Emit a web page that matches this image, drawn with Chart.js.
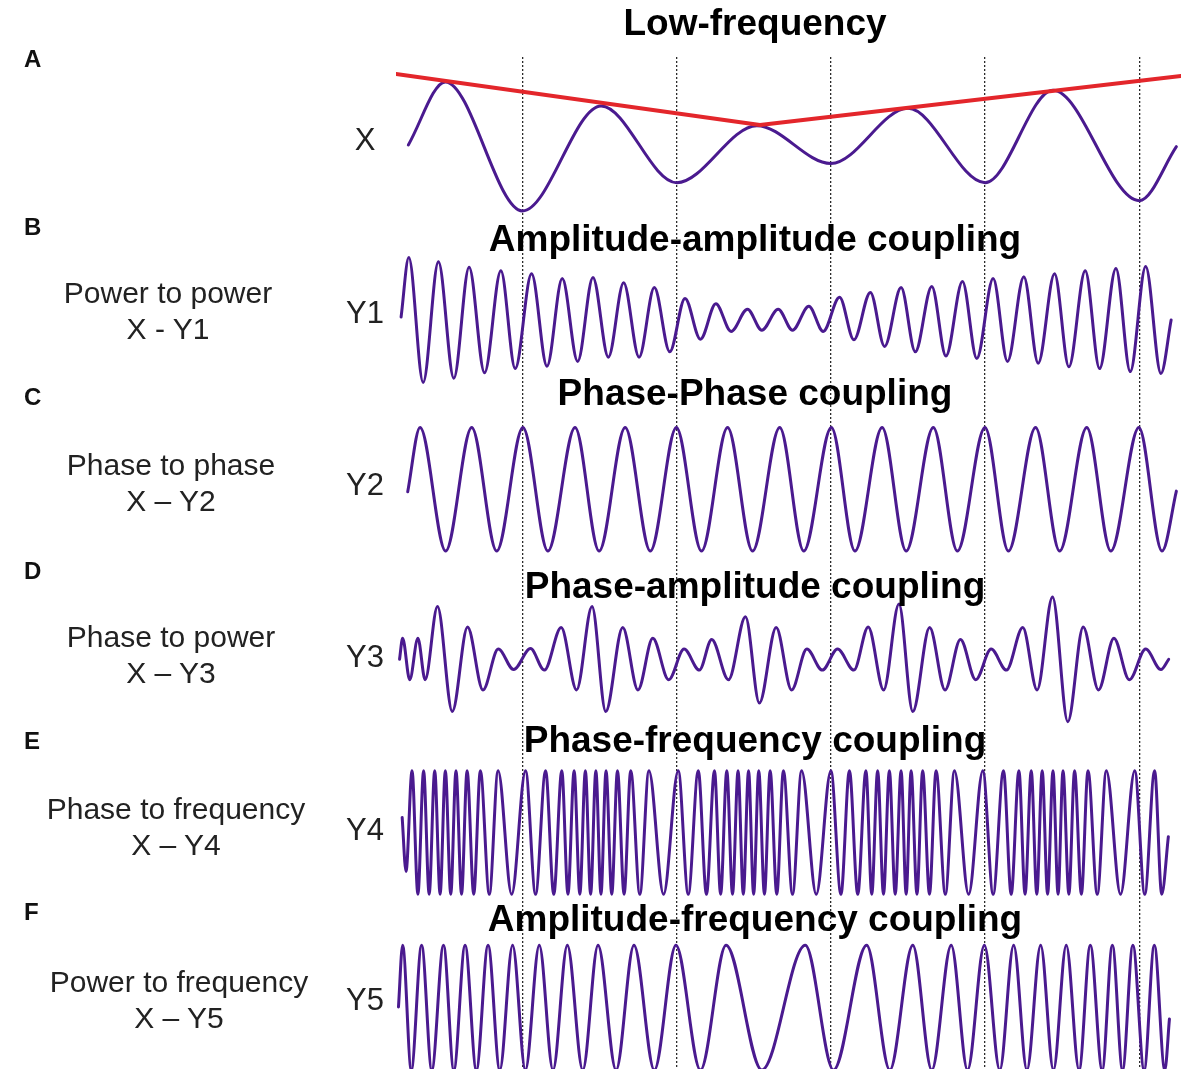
<!DOCTYPE html>
<html>
<head>
<meta charset="utf-8">
<title>Cross-frequency coupling</title>
<script src="https://cdn.jsdelivr.net/npm/chart.js@4.4.1/dist/chart.umd.min.js"></script>
<style>
  body { margin: 0; background: #fff; }
  #wrap { position: relative; width: 1189px; height: 1069px; overflow: hidden;
          font-family: "Liberation Sans", Arial, Helvetica, sans-serif; }
  #wrap canvas { position: absolute; left: 0; top: 0; }
  .lbl { position: absolute; white-space: nowrap; }
  .title { font-weight: bold; font-size: 37px; line-height: 36px; color: #000; transform: translateX(-50%); }
  .panel { font-weight: bold; font-size: 24px; line-height: 24px; color: #111; }
  .desc { font-size: 30px; line-height: 36px; color: #222; text-align: center; transform: translateX(-50%); }
  .sig { font-size: 31px; line-height: 30px; color: #222; transform: translateX(-50%); }
</style>
</head>
<body>
<div id="wrap">
  <canvas id="waves" width="1189" height="1069"></canvas>

  <div class="lbl title" style="left:755px; top:5px;">Low-frequency</div>
  <div class="lbl title" style="left:755px; top:221px;">Amplitude-amplitude coupling</div>
  <div class="lbl title" style="left:755px; top:375px;">Phase-Phase coupling</div>
  <div class="lbl title" style="left:755px; top:568px;">Phase-amplitude coupling</div>
  <div class="lbl title" style="left:755px; top:722px;">Phase-frequency coupling</div>
  <div class="lbl title" style="left:755px; top:901px;">Amplitude-frequency coupling</div>

  <div class="lbl panel" style="left:24px; top:47px;">A</div>
  <div class="lbl panel" style="left:24px; top:215px;">B</div>
  <div class="lbl panel" style="left:24px; top:385px;">C</div>
  <div class="lbl panel" style="left:24px; top:559px;">D</div>
  <div class="lbl panel" style="left:24px; top:729px;">E</div>
  <div class="lbl panel" style="left:24px; top:900px;">F</div>

  <div class="lbl desc" style="left:168px; top:275px;">Power to power<br>X - Y1</div>
  <div class="lbl desc" style="left:171px; top:447px;">Phase to phase<br>X – Y2</div>
  <div class="lbl desc" style="left:171px; top:619px;">Phase to power<br>X – Y3</div>
  <div class="lbl desc" style="left:176px; top:791px;">Phase to frequency<br>X – Y4</div>
  <div class="lbl desc" style="left:179px; top:964px;">Power to frequency<br>X – Y5</div>

  <div class="lbl sig" style="left:365px; top:125px;">X</div>
  <div class="lbl sig" style="left:365px; top:298px;">Y1</div>
  <div class="lbl sig" style="left:365px; top:470px;">Y2</div>
  <div class="lbl sig" style="left:365px; top:642px;">Y3</div>
  <div class="lbl sig" style="left:365px; top:815px;">Y4</div>
  <div class="lbl sig" style="left:365px; top:985px;">Y5</div>
</div>

<script>
// time axis (arbitrary units, one slow cycle = 100); dotted markers at the slow troughs
const gridT = [100, 200, 300, 400, 500];

// each trace = turning points (peaks / troughs) plus its first and last sample
// X: slow oscillation
const xT = [26, 50, 100, 151, 200, 252, 300, 350, 400, 444, 500, 524];
const xV = [0.01, 1.06, -1.09, 0.66, -0.62, 0.33, -0.30, 0.62, -0.62, 0.92, -0.92, -0.02];

// envelope drawn over the peaks of X
const envT = [18, 254, 527];
const envV = [1.19, 0.34, 1.16];

// Y1: amplitude follows the amplitude of X
const y1T = [21.3, 26.3, 35.6, 45.5, 55.5, 65.4, 75.4, 86, 95.3, 105.9, 115.9, 125.8, 135.8,
             145.7, 155.7, 165.6, 175.6, 185.5, 195.5, 205.4, 215.4, 225.4, 235.3, 245.9, 255.2,
             265.8, 275.1, 285.7, 295, 305.6, 314.9, 325.6, 334.8, 345.5, 354.7, 365.4, 374.6,
             385.3, 394.6, 405.2, 414.5, 425.1, 434.4, 445, 454.3, 464.9, 474.2, 484.8, 494.1,
             504.1, 514, 520.6];
const y1V = [0.05, 1.04, -1.04, 0.97, -0.97, 0.88, -0.88, 0.82, -0.81, 0.77, -0.77, 0.69, -0.69,
             0.71, -0.62, 0.62, -0.62, 0.54, -0.53, 0.36, -0.32, 0.27, -0.19, 0.18, -0.17,
             0.18, -0.17, 0.23, -0.19, 0.38, -0.33, 0.46, -0.44, 0.54, -0.53, 0.56, -0.60,
             0.64, -0.64, 0.69, -0.69, 0.72, -0.72, 0.77, -0.78, 0.82, -0.81, 0.86, -0.86,
             0.89, -0.89, 0];

// Y2: three cycles locked to every cycle of X
const y2T = [25.6, 33.6, 50.2, 67.1, 83.3, 100.3, 116.5, 134.1, 149.7, 166.6, 182.9, 199.8,
             216.1, 233, 249.2, 266.8, 282.4, 300.3, 315.6, 333.2, 348.8, 366.4, 382, 399.9,
             415.1, 432.7, 448.3, 465.9, 481.5, 499.7, 514.7, 524];
const y2V = [-0.04, 1.03, -1.03, 1.03, -1.03, 1.03, -1.03, 1.03, -1.03, 1.03, -1.03, 1.03,
             -1.03, 1.03, -1.03, 1.03, -1.03, 1.03, -1.03, 1.03, -1.03, 1.03, -1.03, 1.03,
             -1.03, 1.03, -1.03, 1.03, -1.03, 1.03, -1.03, -0.03];

// Y3: fast bursts riding on the phase of X
const y3T = [20.3, 22.3, 26.9, 32.2, 36.9, 44.9, 54.5, 64.4, 74.4, 84.3, 94.3, 105.2, 114.2,
             125.1, 135.1, 145.1, 154, 165, 174.9, 184.5, 194.8, 204.8, 214.7, 222.7, 233.6,
             244.6, 253.6, 264.5, 274.5, 284.4, 294.4, 304.3, 314.9, 324.2, 334.2, 344.1, 353.1,
             364, 374, 384, 393.9, 403.9, 413.8, 424.4, 433.7, 443.7, 453.6, 463.6, 473.5,
             483.5, 493.5, 504.1, 514, 519];
const y3V = [0, 0.35, -0.34, 0.35, -0.34, 0.88, -0.87, 0.54, -0.51, 0.17, -0.17, 0.18, -0.18,
             0.53, -0.51, 0.88, -0.87, 0.53, -0.51, 0.35, -0.34, 0.17, -0.18, 0.33, -0.34,
             0.71, -0.73, 0.53, -0.51, 0.17, -0.18, 0.17, -0.18, 0.54, -0.51, 0.92, -0.87,
             0.53, -0.51, 0.33, -0.34, 0.17, -0.18, 0.53, -0.51, 1.04, -1.04, 0.54, -0.51,
             0.35, -0.34, 0.17, -0.17, 0];

// Y4: frequency rises and falls with the phase of X
const y4T = [22, 24.5, 28.4, 32.2, 35.9, 39.5, 43.1, 46.6, 50, 53.5, 56.9, 60.5, 64.1, 68.4,
             72.7, 78.5, 84.2, 93, 102, 108.5, 115, 120.3, 125.5, 129.5, 133.5, 137.2, 140.8,
             144.2, 147.6, 150.9, 154.2, 157.9, 161.6, 165.9, 170.2, 176.1, 182, 191.5, 201,
             207.5, 214, 219.3, 224.5, 228.5, 232.5, 236.2, 239.8, 243.2, 246.6, 249.9, 253.2,
             256.9, 260.6, 264.9, 269.2, 275.1, 281, 290.5, 300, 306.5, 312, 317.4, 322.7,
             326.5, 330.3, 334.1, 337.9, 341.7, 345.5, 348.8, 352, 355.8, 359.5, 363.9, 368.2,
             374.2, 380.1, 389.3, 398.5, 405.2, 411.9, 416.9, 421.9, 425.9, 429.9, 433.5, 437,
             440.5, 444, 447.3, 450.5, 454.3, 458, 462.4, 466.7, 472.7, 478.6, 487.8, 497,
             503.5, 509.9, 514.5, 518.8];
const y4V = [0.25, -0.65,
             1.03, -1.03, 1.03, -1.03, 1.03, -1.03, 1.03, -1.03, 1.03, -1.03,
             1.03, -1.03, 1.03, -1.03, 1.03, -1.03, 1.03, -1.03, 1.03, -1.03,
             1.03, -1.03, 1.03, -1.03, 1.03, -1.03, 1.03, -1.03, 1.03, -1.03,
             1.03, -1.03, 1.03, -1.03, 1.03, -1.03, 1.03, -1.03, 1.03, -1.03,
             1.03, -1.03, 1.03, -1.03, 1.03, -1.03, 1.03, -1.03, 1.03, -1.03,
             1.03, -1.03, 1.03, -1.03, 1.03, -1.03, 1.03, -1.03, 1.03, -1.03,
             1.03, -1.03, 1.03, -1.03, 1.03, -1.03, 1.03, -1.03, 1.03, -1.03,
             1.03, -1.03, 1.03, -1.03, 1.03, -1.03, 1.03, -1.03, 1.03, -1.03,
             1.03, -1.03, 1.03, -1.03, 1.03, -1.03, 1.03, -1.03, 1.03, -1.03,
             1.03, -1.03, 1.03, -1.03, 1.03, -1.03, 1.03, -1.03, 1.03, -1.03,
             -0.07];

// Y5: frequency follows the amplitude of X
const y5T = [19.6, 22.3, 27.9, 34.6, 41.2, 48.8, 55.5, 62.8, 70.1, 77.7, 85.3, 93.6, 101.9,
             110.9, 119.8, 129.1, 139.1, 149, 160.7, 172.3, 185.5, 199.5, 215.4, 232, 255.2,
             283.4, 301.7, 323.2, 338.2, 353.1, 365.4, 378, 388.6, 399.5, 409.5, 418.5, 427.1,
             436, 444.3, 452.6, 460.9, 468.2, 475.9, 482.5, 489.1, 495.8, 503.1, 509.7, 516.5,
             519.5];
const y5V = [0, 1.03, -1.05, 1.03, -1.05, 1.03, -1.05, 1.03, -1.05, 1.03, -1.05, 1.03, -1.05,
             1.03, -1.05, 1.03, -1.05, 1.03, -1.05, 1.03, -1.05, 1.03, -1.05, 1.03, -1.05,
             1.03, -1.05, 1.03, -1.05, 1.03, -1.05, 1.03, -1.05, 1.03, -1.05, 1.03, -1.05,
             1.03, -1.05, 1.03, -1.05, 1.03, -1.05, 1.03, -1.05, 1.03, -1.05, 1.03, -1.05,
             -0.2];

// row layout: y scale runs in page pixels, each trace sits on its own baseline
const GAIN = 60;
const rowCentre = { x: 145.5, y1: 320, y2: 489.3, y3: 659.3, y4: 832.5, y5: 1007 };
const PURPLE = '#4a1a8f';

function trace(times, values, centre){
    return times.map(function(t, i){ return { x: t, y: centre - values[i] * GAIN }; });
}

function wave(times, values, centre){
    return {
        data: trace(times, values, centre),
        borderColor: PURPLE,
        borderWidth: 3,
        order: 1
    };
}

let datasets = [
    {
        data: trace(envT, envV, rowCentre.x),
        borderColor: '#e3262b',
        borderWidth: 4,
        cubicInterpolationMode: 'default',
        tension: 0,
        order: 0
    },
    wave(xT, xV, rowCentre.x),
    wave(y1T, y1V, rowCentre.y1),
    wave(y2T, y2V, rowCentre.y2),
    wave(y3T, y3V, rowCentre.y3),
    wave(y4T, y4V, rowCentre.y4),
    wave(y5T, y5V, rowCentre.y5)
];

let myChart = new Chart(document.getElementById('waves'), {
    type: 'line',
    data: { datasets: datasets },
    options: {
        responsive: false,
        animation: false,
        devicePixelRatio: 1,
        layout: { padding: { left: 396, right: 8, top: 57, bottom: 0 } },
        plugins: { legend: { display: false }, tooltip: { enabled: false } },
        elements: {
            point: { radius: 0 },
            line: { cubicInterpolationMode: 'monotone', borderCapStyle: 'round', borderJoinStyle: 'round' }
        },
        scales: {
            x: {
                type: 'linear',
                min: 18,
                max: 527,
                ticks: { display: false },
                grid: { color: '#2b2b2b', lineWidth: 1.3, drawTicks: false },
                border: { display: false, dash: [2, 2] },
                afterBuildTicks: function(axis){
                    axis.ticks = gridT.map(function(v){ return { value: v }; });
                }
            },
            y: {
                type: 'linear',
                min: 57,
                max: 1069,
                reverse: true,
                display: false
            }
        }
    }
});
</script>
</body>
</html>
